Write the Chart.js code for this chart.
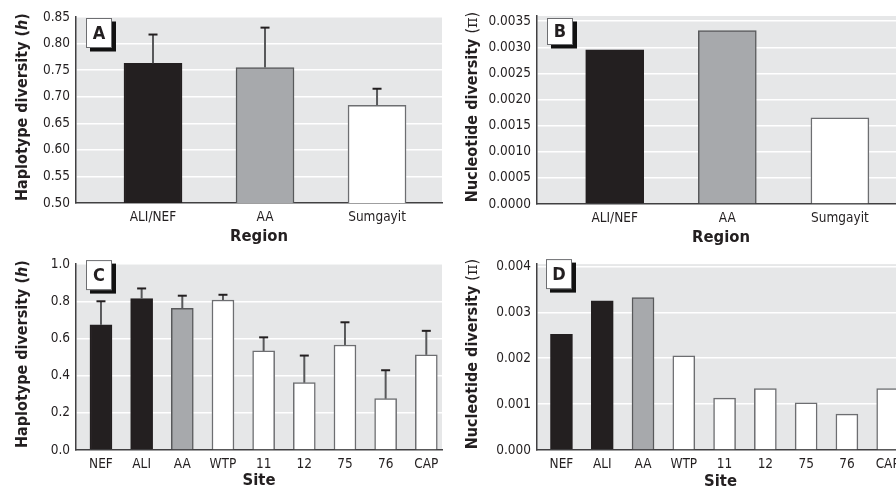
<!DOCTYPE html>
<html><head><meta charset="utf-8">
<script src="https://cdn.jsdelivr.net/npm/chart.js@4.4.1/dist/chart.umd.min.js"></script>
<style>
html,body{margin:0;padding:0;background:#fff;overflow:hidden;width:896px;height:491px;position:relative}
canvas{position:absolute}
</style></head><body>
<canvas id="cA" width="450" height="250" style="left:0;top:0"></canvas>
<canvas id="cB" width="470" height="250" style="left:450px;top:0"></canvas>
<canvas id="cC" width="450" height="250" style="left:0;top:250px"></canvas>
<canvas id="cD" width="470" height="250" style="left:450px;top:250px"></canvas>
<script>
// ---- data ----
const regionLabels = ['ALI/NEF', 'AA', 'Sumgayit'];
const regionGroups = ['black', 'gray', 'white'];
const haploRegion = [0.763, 0.755, 0.684];
const haploRegionSD = [0.054, 0.075, 0.031];
const nucRegion = [0.00295, 0.00332, 0.00165];

const siteLabels = ['NEF', 'ALI', 'AA', 'WTP', '11', '12', '75', '76', 'CAP'];
const siteGroups = ['black', 'black', 'gray', 'white', 'white', 'white', 'white', 'white', 'white'];
const haploSite = [0.673, 0.814, 0.762, 0.807, 0.533, 0.362, 0.565, 0.276, 0.512];
const haploSiteSD = [0.127, 0.055, 0.068, 0.028, 0.073, 0.146, 0.122, 0.153, 0.129];
const nucSite = [0.00252, 0.00325, 0.00332, 0.00205, 0.00113, 0.00134, 0.00103, 0.00078, 0.00134];

const ticksA = [0.50, 0.55, 0.60, 0.65, 0.70, 0.75, 0.80, 0.85];
const ticksB = [0.0000, 0.0005, 0.0010, 0.0015, 0.0020, 0.0025, 0.0030, 0.0035];
const ticksC = [0.0, 0.2, 0.4, 0.6, 0.8, 1.0];
const ticksD = [0.000, 0.001, 0.002, 0.003, 0.004];

// y titles as styled runs: [text, style]
const titleHaplo = [['Haplotype diversity (', 'b'], ['h', 'bi'], [')', 'b']];
const titleNuc = [['Nucleotide diversity ', 'b'], ['(', 'n'], ['π', 's'], [')', 'n']];

// ---- styles ----
const FONT = "'DejaVu Sans Condensed', 'Liberation Sans Narrow', sans-serif";
const TXT = '#231f20';
const BG = '#e6e7e8';
const FILL = {black: '#231f20', gray: '#a7a9ac', white: '#ffffff'};
const EDGE = {black: '#231f20', gray: '#58595b', white: '#6d6e71'};
const RUNFONT = {
  b: 'bold 16px ' + FONT,
  bi: 'italic bold 16px ' + FONT,
  n: '16px ' + FONT,
  s: "16px 'DejaVu Serif', serif"
};

function panel(id, c) {
  const cv = document.getElementById(id);
  const W = cv.width, H = cv.height;
  const data = c.values.map((v, i) => ({x: i, y: v}));
  const plug = {
    id: 'deco' + id,
    beforeDraw(chart) {
      const a = chart.chartArea, ctx = chart.ctx;
      ctx.save();
      ctx.fillStyle = BG;
      ctx.fillRect(a.left, a.top, a.right - a.left, a.bottom - a.top);
      ctx.restore();
    },
    afterDatasetsDraw(chart) {
      const ctx = chart.ctx, ys = chart.scales.y;
      const meta = chart.getDatasetMeta(0);
      if (c.sd) {
        ctx.save();
        meta.data.forEach((bar, i) => {
          const top = ys.getPixelForValue(c.values[i]);
          const e = ys.getPixelForValue(c.values[i] + c.sd[i]);
          ctx.strokeStyle = '#58595b';
          ctx.lineWidth = 2;
          ctx.beginPath(); ctx.moveTo(bar.x, top); ctx.lineTo(bar.x, e); ctx.stroke();
          ctx.strokeStyle = TXT;
          ctx.beginPath(); ctx.moveTo(bar.x - 4.5, e); ctx.lineTo(bar.x + 4.5, e); ctx.stroke();
        });
        ctx.restore();
      }
      // panel letter box
      const a = chart.chartArea;
      const bx = a.left + c.box[0], by = a.top + c.box[1], bw = c.box[2], bh = c.box[3];
      ctx.save();
      ctx.fillStyle = '#111';
      ctx.fillRect(bx + 4, by + 3.5, bw, bh);
      ctx.fillStyle = '#fff';
      ctx.fillRect(bx, by, bw, bh);
      ctx.strokeStyle = '#6d6e71';
      ctx.lineWidth = 1;
      ctx.strokeRect(bx + 0.5, by + 0.5, bw - 1, bh - 1);
      ctx.fillStyle = TXT;
      ctx.font = 'bold 18px ' + FONT;
      ctx.textAlign = 'center';
      ctx.textBaseline = 'middle';
      ctx.fillText(c.letter, bx + bw / 2, by + bh / 2 + 1);
      ctx.restore();
    },
    afterDraw(chart) {
      // rotated y-axis title with mixed styles
      const ctx = chart.ctx, a = chart.chartArea;
      ctx.save();
      let total = 0;
      c.yTitle.forEach(([t, s]) => { ctx.font = RUNFONT[s]; total += ctx.measureText(t).width; });
      const cy = (a.top + a.bottom) / 2 - 3;
      ctx.translate(23, cy);
      ctx.rotate(-Math.PI / 2);
      ctx.fillStyle = TXT;
      ctx.textBaseline = 'middle';
      ctx.textAlign = 'left';
      let x = -total / 2;
      c.yTitle.forEach(([t, s]) => {
        ctx.font = RUNFONT[s];
        ctx.fillText(t, x, 0);
        x += ctx.measureText(t).width;
      });
      ctx.restore();
    }
  };
  return new Chart(cv, {
    type: 'bar',
    data: {
      datasets: [{
        data: data,
        backgroundColor: c.groups.map(g => FILL[g]),
        borderColor: c.groups.map(g => EDGE[g]),
        borderWidth: 1.5,
        borderSkipped: 'bottom',
        barThickness: c.barW
      }]
    },
    options: {
      responsive: false,
      animation: false,
      events: [],
      layout: {padding: {left: 0, top: c.area.t, right: W - c.area.r, bottom: 0}},
      plugins: {legend: {display: false}, tooltip: {enabled: false}},
      scales: {
        x: {
          type: 'linear',
          offset: false,
          min: c.xMin, max: c.xMax,
          afterFit: s => { s.height = H - c.area.b; },
          afterBuildTicks: s => { s.ticks = c.labels.map((_, i) => ({value: i})); },
          grid: {drawOnChartArea: false, drawTicks: false},
          border: {display: true, color: '#414042', width: 1.5},
          ticks: {
            autoSkip: false, maxRotation: 0, padding: 6,
            color: TXT, font: {family: FONT, size: 13.5},
            callback: v => c.labels[v] !== undefined ? c.labels[v] : ''
          },
          title: {
            display: true, text: c.xTitle, color: TXT,
            font: {family: FONT, size: 16.5, weight: 'bold'},
            padding: {top: 0, bottom: c.xTitlePad}
          }
        },
        y: {
          min: c.yMin, max: c.yMax,
          afterFit: s => { s.width = c.area.l; },
          afterBuildTicks: s => { s.ticks = c.yTicks.map(v => ({value: v})); },
          grid: {color: '#ffffff', lineWidth: 1.5, drawTicks: false},
          border: {display: true, color: '#414042', width: 1.5},
          ticks: {
            padding: 6, color: TXT, font: {family: FONT, size: 13.5},
            callback: v => Number(v).toFixed(c.dec)
          },
          title: {display: false}
        }
      }
    },
    plugins: [plug]
  });
}

panel('cA', {
  labels: regionLabels, groups: regionGroups, values: haploRegion, sd: haploRegionSD,
  yMin: 0.5, yMax: 0.85, yTicks: ticksA, dec: 2,
  xMin: -0.6875, xMax: 2.58, barW: 58,
  area: {l: 76, t: 17, r: 442, b: 203},
  yTitle: titleHaplo, xTitle: 'Region', xTitlePad: 3,
  letter: 'A', box: [10, 1, 26, 30]
});
panel('cB', {
  labels: regionLabels, groups: regionGroups, values: nucRegion, sd: null,
  yMin: 0, yMax: 0.0036, yTicks: ticksB, dec: 4,
  xMin: -0.69, xMax: 2.578, barW: 58,
  area: {l: 87, t: 16, r: 455, b: 204},
  yTitle: titleNuc, xTitle: 'Region', xTitlePad: 2,
  letter: 'B', box: [10, 2, 26, 27]
});
panel('cC', {
  labels: siteLabels, groups: siteGroups, values: haploSite, sd: haploSiteSD,
  yMin: 0, yMax: 1.0, yTicks: ticksC, dec: 1,
  xMin: -0.614, xMax: 8.386, barW: 22,
  area: {l: 76, t: 12, r: 442, b: 200},
  yTitle: titleHaplo, xTitle: 'Site', xTitlePad: 9,
  letter: 'C', box: [10, -4, 26, 30]
});
panel('cD', {
  labels: siteLabels, groups: siteGroups, values: nucSite, sd: null,
  yMin: 0, yMax: 0.00405, yTicks: ticksD, dec: 3,
  xMin: -0.6, xMax: 8.4, barW: 22,
  area: {l: 87, t: 13, r: 454, b: 200},
  yTitle: titleNuc, xTitle: 'Site', xTitlePad: 8,
  letter: 'D', box: [9, -5, 26, 30]
});
</script>
</body></html>
